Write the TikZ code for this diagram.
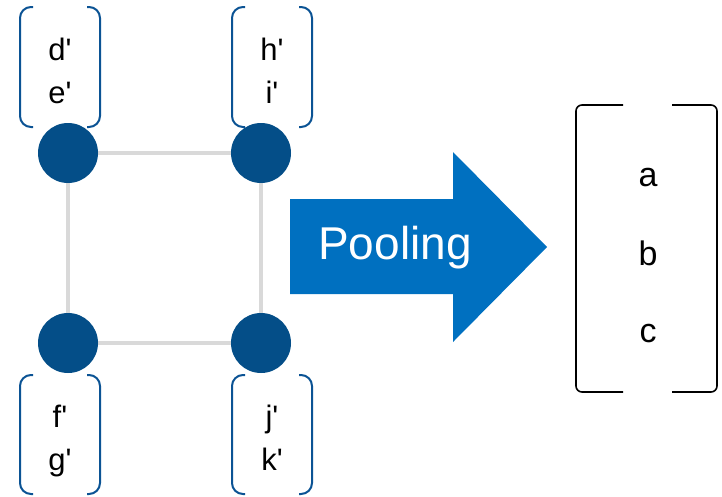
\documentclass[tikz,border=0pt]{standalone}
\usepackage{fontspec}
\setmainfont{Liberation Sans}
\usetikzlibrary{backgrounds}
\definecolor{nodeblue}{HTML}{044E88}
\definecolor{brkblue}{HTML}{0B5394}
\definecolor{arrowblue}{HTML}{0070C0}
\definecolor{edgegray}{HTML}{D9D9D9}
\newcommand{\pr}{\textquotesingle}
\begin{document}
\begin{tikzpicture}[x=1pt,y=-1pt,
  vertex/.style={circle,fill=nodeblue,minimum size=60pt,inner sep=0pt},
  edge/.style={draw=edgegray,line width=4pt},
  brk/.style={draw=brkblue,line width=2pt,rounded corners=11pt},
  bigbrk/.style={draw=black,line width=1.6pt,rounded corners=6pt},
  lbl/.style={anchor=base,inner sep=0pt,font=\fontsize{31}{36}\selectfont},
  vec/.style={anchor=base,inner sep=0pt,font=\fontsize{34}{40}\selectfont},
  pool/.style={anchor=base,inner sep=0pt,text=white,font=\fontsize{46}{54}\selectfont}]
\useasboundingbox (0,0) rectangle (722,496);
% vertices
\node[vertex] (v1) at (68,153) {};
\node[vertex] (v2) at (261,153) {};
\node[vertex] (v3) at (68,343) {};
\node[vertex] (v4) at (261,343) {};
\begin{scope}[on background layer]
  \draw[edge] (v1.center) -- (v2.center) -- (v4.center) -- (v3.center) -- (v1.center);
\end{scope}
% brackets top-left
\draw[brk] (33,7) -- (20,7) -- (20,127) -- (33,127);
\draw[brk] (87,7) -- (100,7) -- (100,127) -- (87,127);
% top-right
\draw[brk] (245,7) -- (232,7) -- (232,127) -- (245,127);
\draw[brk] (299,7) -- (312,7) -- (312,127) -- (299,127);
% bottom-left
\draw[brk] (33,375) -- (20,375) -- (20,494) -- (33,494);
\draw[brk] (87,375) -- (100,375) -- (100,494) -- (87,494);
% bottom-right
\draw[brk] (245,375) -- (232,375) -- (232,494) -- (245,494);
\draw[brk] (299,375) -- (312,375) -- (312,494) -- (299,494);
% labels
\node[lbl] (d) at (60,60) {d\pr};
\node[lbl] (e) at (60,103) {e\pr};
\node[lbl] (h) at (272,60) {h\pr};
\node[lbl] (i) at (272,103) {i\pr};
\node[lbl] (f) at (60,427) {f\pr};
\node[lbl] (g) at (60,470) {g\pr};
\node[lbl] (j) at (272,427) {j\pr};
\node[lbl] (k) at (272,470) {k\pr};
% arrow
\fill[arrowblue] (290,199) -- (453,199) -- (453,152) -- (547,247) -- (453,342) -- (453,294) -- (290,294) -- cycle;
\node[pool] (p) at (395,259) {Pooling};
% big bracket
\draw[bigbrk] (623,105) -- (576,105) -- (576,392) -- (623,392);
\draw[bigbrk] (672,105) -- (717,105) -- (717,392) -- (672,392);
\node[vec] (a) at (648,186) {a};
\node[vec] (b) at (648,265) {b};
\node[vec] (c) at (648,342) {c};
\end{tikzpicture}
\end{document}
